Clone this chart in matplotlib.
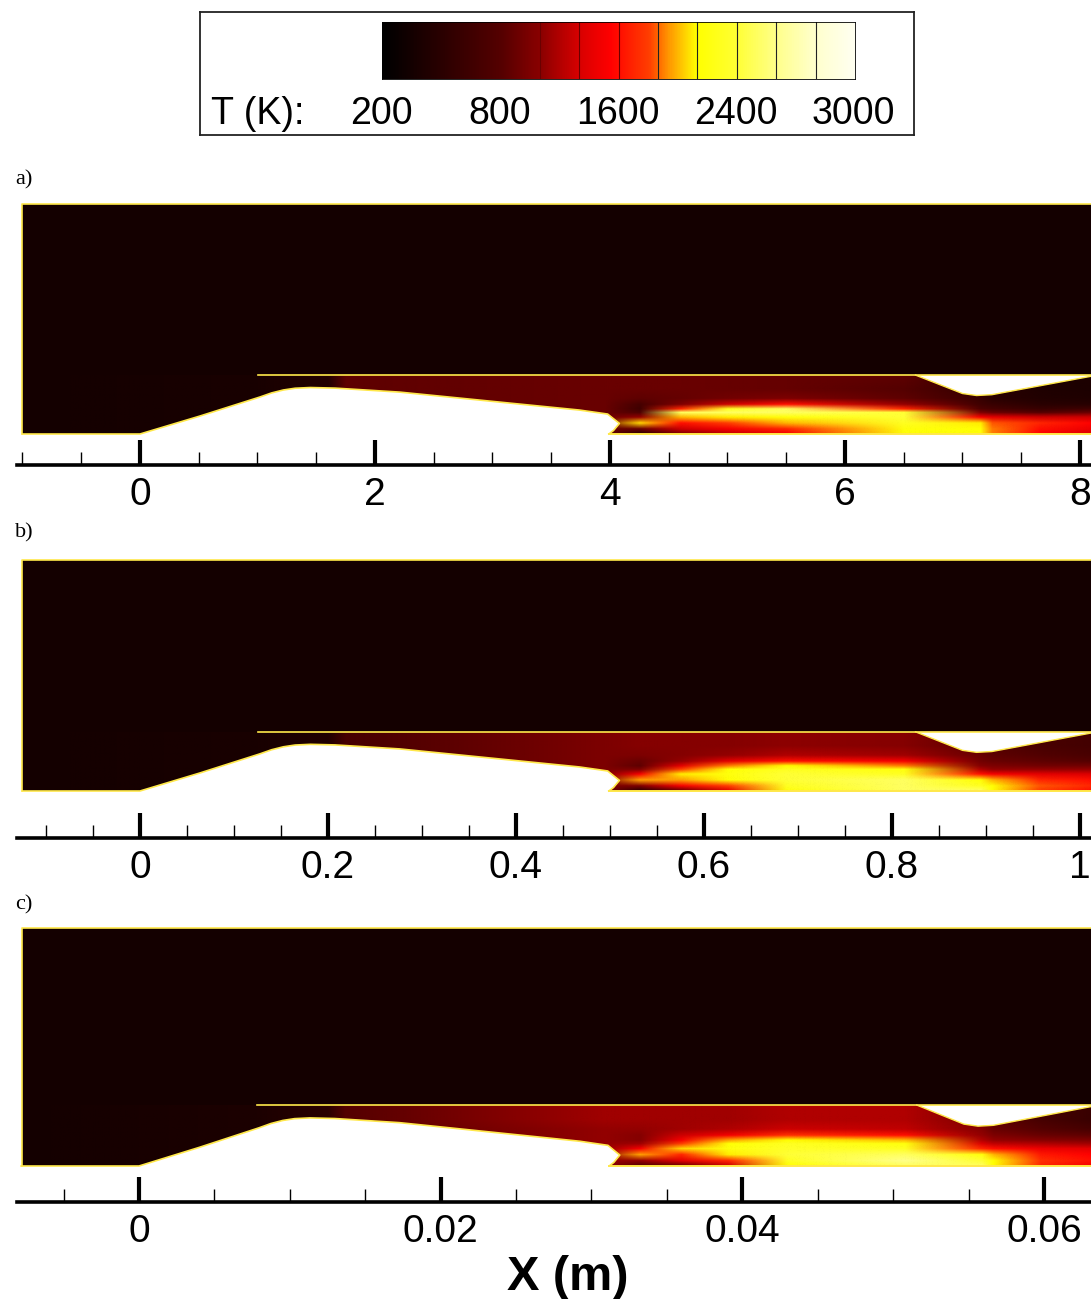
import numpy as np
import matplotlib
matplotlib.use('Agg')
import matplotlib.pyplot as plt
from matplotlib.colors import LinearSegmentedColormap, Normalize
from matplotlib.image import NonUniformImage
from matplotlib.patches import Polygon, Rectangle

plt.rcParams['font.family'] = ['Liberation Sans', 'DejaVu Sans']

FIG_W = 1091
FIG_H = 1299

#Colour scale
#---------------------------------------------------
cmap_temps = [200, 494, 800, 1067, 1333, 1547, 1813, 1947, 2133, 2400, 2600, 2800, 3000]
cmap_colors = ['#000000', '#2a0000', '#550000', '#8a0000', '#d80000', '#ff0000', '#ff4000',
               '#ff9900', '#ffff00', '#ffff33', '#ffff88', '#ffffcc', '#fffff0']
bar_levels = [200, 400, 600, 800, 1067, 1333, 1600, 1867, 2133, 2400, 2600, 2800, 3000]
bar_labels = ['200', '800', '1600', '2400', '3000']

#Geometry, in units of the first panel's axis
#---------------------------------------------------
body_x = [-1.0, 0.0, 0.51, 1.02, 1.12, 1.22, 1.32, 1.45, 1.66, 2.21, 3.06, 3.74, 3.98, 4.03, 4.08, 4.03, 3.99]
body_h = [0.0, 0.0, 0.153, 0.315, 0.35, 0.375, 0.39, 0.396, 0.391, 0.357, 0.272, 0.204, 0.17, 0.13, 0.09, 0.03, 0.0]
cowl_x = [1.0, 8.1]
cowl_h = 0.502
notch_x = [6.6, 7.0, 7.12, 7.25, 8.1]
notch_h = [0.502, 0.345, 0.328, 0.335, 0.493]
top_h = 1.96

#Temperature tables: rows are heights, columns are stations
#---------------------------------------------------
station_x = [-1.0, 1.0, 1.6, 1.75, 3.95, 4.25, 4.6, 5.0, 5.5, 6.5, 7.15, 7.25, 7.65, 8.1]
height_h = [0.0, 0.04, 0.09, 0.14, 0.18, 0.21, 0.25, 0.30, 0.38, 0.50]

temps_a = [
    [350, 380, 450, 850, 900, 500, 1000, 1250, 1500, 2150, 2150, 1900, 1550, 1350],
    [350, 380, 450, 850, 900, 900, 1300, 1500, 1700, 2200, 2150, 1900, 1600, 1450],
    [350, 380, 450, 850, 900, 2050, 1600, 1800, 2000, 2300, 2100, 1850, 1700, 1550],
    [350, 380, 450, 850, 900, 1100, 2000, 2100, 2200, 2400, 1500, 1400, 1300, 1300],
    [350, 380, 450, 850, 900, 750, 2500, 2500, 2500, 2400, 1000, 900, 800, 900],
    [350, 380, 450, 850, 900, 650, 1700, 2300, 2500, 1700, 750, 700, 600, 650],
    [350, 380, 450, 850, 900, 700, 1000, 1300, 1600, 1100, 650, 600, 500, 480],
    [350, 380, 450, 850, 900, 850, 880, 950, 1000, 850, 600, 500, 450, 420],
    [350, 380, 450, 850, 900, 900, 900, 890, 880, 800, 550, 500, 420, 400],
    [350, 380, 450, 850, 900, 900, 900, 890, 880, 850, 550, 500, 420, 400],
]
temps_b = [
    [350, 380, 430, 700, 1000, 500, 900, 1400, 2200, 2500, 2500, 2150, 1800, 1600],
    [350, 380, 430, 700, 1000, 1000, 1500, 1800, 2300, 2500, 2300, 2150, 1850, 1700],
    [350, 380, 430, 700, 1000, 1950, 1950, 2150, 2400, 2500, 2150, 2000, 1700, 1600],
    [350, 380, 430, 700, 1000, 1500, 2100, 2200, 2400, 2300, 1600, 1500, 1400, 1350],
    [350, 380, 430, 700, 1000, 1000, 1800, 2150, 2300, 2200, 1200, 1100, 1100, 1100],
    [350, 380, 430, 700, 1000, 850, 1400, 1900, 2133, 1900, 1050, 1000, 950, 950],
    [350, 380, 430, 700, 1000, 900, 1100, 1400, 1600, 1500, 950, 900, 850, 800],
    [350, 380, 430, 700, 1000, 1000, 1050, 1100, 1200, 1150, 900, 850, 780, 720],
    [350, 380, 430, 700, 1000, 1050, 1050, 1050, 1080, 1050, 850, 800, 720, 680],
    [350, 380, 430, 700, 1000, 1050, 1050, 1050, 1080, 1050, 850, 800, 720, 680],
]
temps_c = [
    [350, 400, 500, 800, 1100, 800, 900, 1300, 2150, 2500, 2500, 2133, 1700, 1500],
    [350, 400, 500, 800, 1100, 1100, 1400, 1700, 2300, 2600, 2400, 2133, 1750, 1600],
    [350, 400, 500, 800, 1100, 1950, 1700, 2100, 2400, 2500, 2200, 2000, 1650, 1550],
    [350, 400, 500, 800, 1100, 1500, 2050, 2200, 2350, 2300, 1700, 1600, 1450, 1400],
    [350, 400, 500, 800, 1100, 1150, 1800, 2150, 2300, 2200, 1350, 1250, 1200, 1150],
    [350, 400, 500, 800, 1100, 1050, 1500, 1950, 2133, 2000, 1200, 1100, 1050, 1000],
    [350, 400, 500, 800, 1100, 1050, 1300, 1500, 1750, 1600, 1100, 1000, 900, 850],
    [350, 400, 500, 800, 1100, 1100, 1150, 1200, 1300, 1250, 1050, 900, 800, 700],
    [350, 400, 500, 800, 1150, 1150, 1150, 1150, 1200, 1200, 1000, 850, 700, 600],
    [350, 400, 500, 800, 1150, 1150, 1150, 1150, 1200, 1200, 1000, 850, 700, 600],
]

#Axis ticks
#---------------------------------------------------
major_a = [0, 2, 4, 6, 8]
minor_a = [-1, -0.5, 0.5, 1, 1.5, 2.5, 3, 3.5, 4.5, 5, 5.5, 6.5, 7, 7.5]
labels_a = ['0', '2', '4', '6', '8']
major_b = [0, 0.2, 0.4, 0.6, 0.8, 1]
minor_b = [-0.1, -0.05, 0.05, 0.1, 0.15, 0.25, 0.3, 0.35, 0.45, 0.5, 0.55, 0.65, 0.7, 0.75, 0.85, 0.9, 0.95]
labels_b = ['0', '0.2', '0.4', '0.6', '0.8', '1']
major_c = [0, 0.02, 0.04, 0.06]
minor_c = [-0.005, 0.005, 0.01, 0.015, 0.025, 0.03, 0.035, 0.045, 0.05, 0.055]
labels_c = ['0', '0.02', '0.04', '0.06']

YELLOW = '#ffe84a'


def add_axes_px(fig, left, top, right, bottom):
    return fig.add_axes([left / FIG_W, 1 - bottom / FIG_H, (right - left) / FIG_W, (bottom - top) / FIG_H])


def draw_field(fig, cmap, norm, temps, scale, ppu, x0_px, top_px, base_px):
    #scale converts first panel units to this panel's axis units
    ax = add_axes_px(fig, 22, top_px, FIG_W, base_px)
    ax.set_axis_off()
    xlim = ((22 - x0_px) / ppu, (FIG_W - x0_px) / ppu)
    ylim = (0, top_h * scale)

    sx = np.array(station_x) * scale
    sy = np.array(height_h) * scale
    ambient = Rectangle((xlim[0], 0), xlim[1] - xlim[0], ylim[1], facecolor=cmap(norm(350)), edgecolor='none', zorder=0)
    ax.add_patch(ambient)

    im = NonUniformImage(ax, interpolation='bilinear', cmap=cmap, norm=norm, zorder=1)
    im.set_data(sx, sy, np.array(temps, dtype=float))
    ax.add_image(im)
    clip = Rectangle((xlim[0], 0), xlim[1] - xlim[0], cowl_h * scale, transform=ax.transData)
    im.set_clip_path(clip)

    bx = np.array(body_x) * scale
    bh = np.array(body_h) * scale
    ax.add_patch(Polygon(np.column_stack([bx[1:], bh[1:]]), closed=True, facecolor='white', edgecolor='none', zorder=2))
    nx = np.array(notch_x) * scale
    nh = np.array(notch_h) * scale
    ax.add_patch(Polygon(np.column_stack([list(nx) + [nx[-1]], list(nh) + [cowl_h * scale]]), closed=True,
                         facecolor='white', edgecolor='none', zorder=2))

    #yellow zone edges
    ax.plot([xlim[0], xlim[0], xlim[1]], [0, ylim[1], ylim[1]], color=YELLOW, lw=1.2, zorder=3, clip_on=False)
    ax.plot(list(bx), list(bh), color=YELLOW, lw=1.2, zorder=3, clip_on=False)
    ax.plot([bx[-1], xlim[1]], [0, 0], color=YELLOW, lw=1.4, zorder=3, clip_on=False)
    ax.plot(np.array(cowl_x) * scale, [cowl_h * scale] * 2, color=YELLOW, lw=1.2, zorder=3)
    ax.plot(nx, nh, color=YELLOW, lw=1.0, zorder=3)
    ax.set_xlim(xlim)
    ax.set_ylim(ylim)


def draw_ruler(fig, ppu, x0_px, line_px, major, minor, labels):
    ax = add_axes_px(fig, 17, line_px - 26, FIG_W, line_px)
    ax.set_xlim((17 - x0_px) / ppu, (FIG_W - x0_px) / ppu)
    ax.set_ylim(0, 1)
    ax.patch.set_alpha(0)
    for side in ['top', 'left', 'right']:
        ax.spines[side].set_visible(False)
    ax.spines['bottom'].set_linewidth(2.6)
    ax.set_yticks([])
    ax.set_xticks(major, labels=labels)
    ax.set_xticks(minor, minor=True)
    ax.tick_params(axis='x', which='major', direction='in', length=18, width=3, labelsize=28, pad=9)
    ax.tick_params(axis='x', which='minor', direction='in', length=9.5, width=1)


def draw_legend(fig, cmap, norm):
    box = add_axes_px(fig, 200, 12, 914, 135)
    box.set_xticks([])
    box.set_yticks([])
    for s in box.spines.values():
        s.set_linewidth(1.3)
        s.set_color('#222222')

    ax = add_axes_px(fig, 382, 22, 855, 79)
    n_steps = len(bar_levels) - 1
    grid = np.linspace(0, n_steps, 600)
    values = np.interp(grid, np.arange(len(bar_levels)), bar_levels)
    ax.imshow(values[np.newaxis, :], aspect='auto', cmap=cmap, norm=norm, extent=[0, n_steps, 0, 1])
    ax.set_xticks([])
    ax.set_yticks([])
    for s in ax.spines.values():
        s.set_linewidth(0.6)
    for i in range(4, n_steps):
        ax.axvline(i, color='#222222' if i >= 7 else '#6a0000', lw=0.8)

    for i, label in enumerate(bar_labels):
        fig.text((381 + i * 118.2) / FIG_W, 1 - 114 / FIG_H, label, fontsize=27, ha='center', va='center')
    fig.text(211 / FIG_W, 1 - 114 / FIG_H, 'T (K):', fontsize=27, ha='left', va='center')


fig = plt.figure(figsize=(FIG_W / 100, FIG_H / 100), dpi=100)
cmap = LinearSegmentedColormap.from_list('temp', [((t - 200) / 2800, c) for t, c in zip(cmap_temps, cmap_colors)])
norm = Normalize(200, 3000)

draw_legend(fig, cmap, norm)

draw_field(fig, cmap, norm, temps_a, 1, 117.5, 140, 204, 434)
draw_ruler(fig, 117.5, 140, 465, major_a, minor_a, labels_a)

draw_field(fig, cmap, norm, temps_b, 1 / 8.0, 940.0, 140, 560, 791)
draw_ruler(fig, 940.0, 140, 838, major_b, minor_b, labels_b)

draw_field(fig, cmap, norm, temps_c, 1 / 128.0, 15083.0, 139, 928, 1166)
draw_ruler(fig, 15083.0, 139, 1202, major_c, minor_c, labels_c)

for letter, y_px in [('a)', 180), ('b)', 533), ('c)', 905)]:
    fig.text(15 / FIG_W, 1 - y_px / FIG_H, letter, family=['Liberation Serif'], fontsize=16, ha='left', va='center')

fig.text(568 / FIG_W, 1 - 1277 / FIG_H, 'X (m)', fontsize=35, fontweight='bold', ha='center', va='center')

fig.savefig('out.png', dpi=100)
